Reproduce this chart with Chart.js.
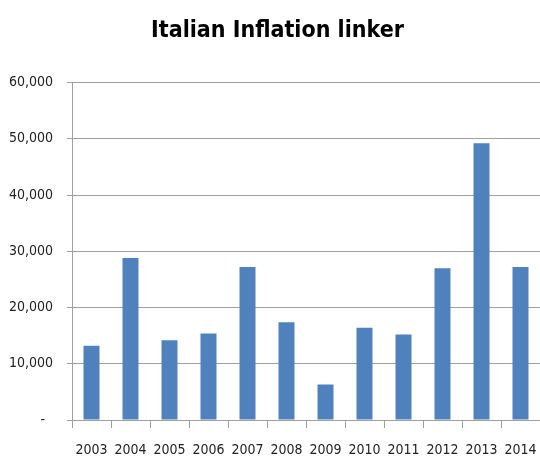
<!DOCTYPE html>
<html>
<head>
<meta charset="utf-8">
<script src="https://cdn.jsdelivr.net/npm/chart.js@4/dist/chart.umd.min.js"></script>
<style>
  html, body { margin: 0; padding: 0; background: #fff; }
  canvas { display: block; }
</style>
</head>
<body>
<canvas id="linkerChart" width="540" height="457"></canvas>
<script>
// Issuance by year
const years = ['2003', '2004', '2005', '2006', '2007', '2008', '2009', '2010', '2011', '2012', '2013', '2014'];
const amounts = [13200, 28800, 14200, 15400, 27200, 17400, 6300, 16400, 15200, 27000, 49200, 27200];
const yTicks = [0, 10000, 20000, 30000, 40000, 50000, 60000];

const fontFamily = "'DejaVu Sans Condensed', 'Liberation Sans', sans-serif";

// y labels are clipped to the scale box; widen it to the canvas edge after layout
const unclipYLabels = {
    id: 'unclipYLabels',
    afterLayout: function(chart) {
        chart.scales.y.left = 0;
    }
};

const ctx = document.getElementById('linkerChart').getContext('2d');
window.linkerChart = new Chart(ctx, {
    type: 'bar',
    data: {
        labels: years,
        datasets: [{
            label: 'Italian Inflation linker',
            data: amounts,
            backgroundColor: '#4f81bd',
            borderWidth: 0,
            barPercentage: 0.41,
            categoryPercentage: 1.0
        }]
    },
    plugins: [unclipYLabels],
    options: {
        responsive: false,
        animation: false,
        layout: {
            padding: { left: 15, right: 0, top: 0, bottom: 0 }
        },
        plugins: {
            legend: { display: false },
            tooltip: { enabled: false },
            title: {
                display: true,
                text: 'Italian Inflation linker',
                color: '#000',
                font: { family: fontFamily, size: 23, weight: 'bold' },
                padding: { top: 17, bottom: 38 }
            }
        },
        scales: {
            x: {
                afterFit: function(scale) {
                    scale.height = 37;
                    scale.paddingLeft = 0;
                    scale.paddingRight = 0;
                },
                grid: {
                    drawOnChartArea: false,
                    drawTicks: true,
                    tickLength: 8,
                    color: '#a0a0a0'
                },
                border: { color: '#a0a0a0' },
                ticks: {
                    color: '#222',
                    font: { family: fontFamily, size: 14 },
                    padding: 14,
                    maxRotation: 0,
                    autoSkip: false
                }
            },
            y: {
                min: 0,
                max: 60000,
                afterBuildTicks: function(scale) {
                    scale.ticks = yTicks.map(v => ({ value: v }));
                },
                afterFit: function(scale) {
                    scale.width = 57;
                },
                grid: {
                    color: '#a0a0a0',
                    tickLength: 5
                },
                border: { color: '#a0a0a0' },
                ticks: {
                    color: '#222',
                    font: { family: fontFamily, size: 14 },
                    padding: 14,
                    callback: function(value) {
                        return value === 0 ? '-  ' : value.toLocaleString('en-US');
                    }
                }
            }
        }
    }
});
</script>
</body>
</html>
